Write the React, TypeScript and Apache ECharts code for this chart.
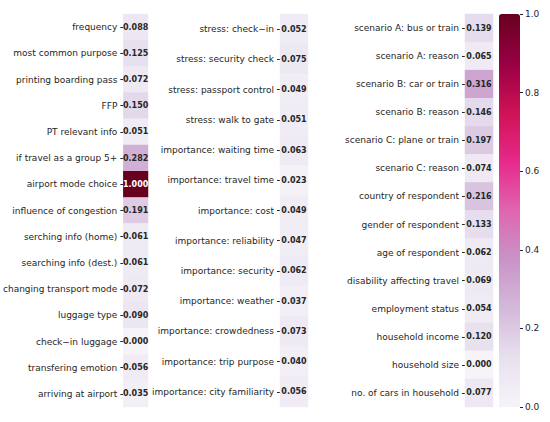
import React, { useEffect, useRef } from "react";
import * as echarts from "echarts";

const labels1 = [
  "frequency", "most common purpose", "printing boarding pass", "FFP", "PT relevant info",
  "if travel as a group 5+", "airport mode choice", "influence of congestion",
  "serching info (home)", "searching info (dest.)", "changing transport mode",
  "luggage type", "check\u2212in luggage", "transfering emotion", "arriving at airport",
];
const values1 = [0.088, 0.125, 0.072, 0.15, 0.051, 0.282, 1.0, 0.191, 0.061, 0.061, 0.072, 0.09, 0.0, 0.056, 0.035];

const labels2 = [
  "stress: check\u2212in", "stress: security check", "stress: passport control", "stress: walk to gate",
  "importance: waiting time", "importance: travel time", "importance: cost",
  "importance: reliability", "importance: security", "importance: weather",
  "importance: crowdedness", "importance: trip purpose", "importance: city familiarity",
];
const values2 = [0.052, 0.075, 0.049, 0.051, 0.063, 0.023, 0.049, 0.047, 0.062, 0.037, 0.073, 0.04, 0.056];

const labels3 = [
  "scenario A: bus or train", "scenario A: reason", "scenario B: car or train", "scenario B: reason",
  "scenario C: plane or train", "scenario C: reason", "country of respondent",
  "gender of respondent", "age of respondent", "disability affecting travel",
  "employment status", "household income", "household size", "no. of cars in household",
];
const values3 = [0.139, 0.065, 0.316, 0.146, 0.197, 0.074, 0.216, 0.133, 0.062, 0.069, 0.054, 0.12, 0.0, 0.077];

const colorbarTicks = [0, 0.2, 0.4, 0.6, 0.8, 1.0];

const PuRd = ["#f7f4f9", "#e7e1ef", "#d4b9da", "#c994c7", "#df65b0", "#e7298a", "#ce1256", "#980043", "#67001f"];

const FONT = "DejaVu Sans";
const TOP = 14;
const HEIGHT = 393;

export default function App() {
  const ref = useRef<HTMLDivElement>(null);
  useEffect(() => {
    if (!ref.current) return;
    const chart = echarts.init(ref.current, null, { renderer: "svg" });
    const cols = [
      { labels: labels1, values: values1, left: 123, width: 25 },
      { labels: labels2, values: values2, left: 280, width: 28 },
      { labels: labels3, values: values3, left: 465, width: 28 },
    ];
    const grid: any[] = cols.map((c) => ({ left: c.left, width: c.width, top: TOP, height: HEIGHT }));
    grid.push({ left: 499, width: 21, top: TOP, height: HEIGHT });
    const xAxis: any[] = cols.map((_, i) => ({ type: "category", gridIndex: i, data: [""], show: false }));
    xAxis.push({ type: "category", gridIndex: 3, show: false, data: [""] });
    const yAxis: any[] = cols.map((c, i) => ({
      type: "category",
      gridIndex: i,
      data: c.labels,
      inverse: true,
      axisLine: { show: false },
      axisTick: { show: true, alignWithLabel: true, length: 3, lineStyle: { color: "#262626" } },
      axisLabel: { fontSize: 9, color: "#262626", fontFamily: FONT, margin: 6, interval: 0 },
      splitLine: { show: false },
    }));
    yAxis.push({
      type: "value",
      gridIndex: 3,
      position: "right",
      min: colorbarTicks[0],
      max: colorbarTicks[colorbarTicks.length - 1],
      interval: 0.2,
      axisLine: { show: false, onZero: false },
      axisTick: { show: true, length: 3, lineStyle: { color: "#262626" } },
      axisLabel: { fontSize: 9, color: "#262626", fontFamily: FONT, margin: 5, formatter: (v: number) => v.toFixed(1) },
      splitLine: { show: false },
    });
    const series: any[] = cols.map((c, i) => ({
      type: "heatmap",
      xAxisIndex: i,
      yAxisIndex: i,
      data: c.values.map((v, j) => ({
        value: [0, j, v],
        label: { color: v > 0.6 ? "#ffffff" : "#262626" },
      })),
      label: {
        show: true,
        fontSize: 8,
        fontWeight: "bold",
        fontFamily: FONT,
        formatter: (p: any) => p.value[2].toFixed(3),
      },
      itemStyle: { borderWidth: 0 },
    }));
    series.push({ type: "line", xAxisIndex: 3, yAxisIndex: 3, data: [] });
    chart.setOption({
      animation: false,
      backgroundColor: "#ffffff",
      grid,
      xAxis,
      yAxis,
      visualMap: {
        type: "continuous",
        min: 0,
        max: 1,
        seriesIndex: [0, 1, 2],
        dimension: 2,
        inRange: { color: PuRd },
        left: 499,
        top: TOP,
        itemWidth: 21,
        itemHeight: HEIGHT,
        padding: 0,
        calculable: false,
        hoverLink: false,
        text: undefined,
      },
      series,
    });
    return () => chart.dispose();
  }, []);
  return <div ref={ref} style={{ position: "fixed", left: 0, top: 0, width: 550, height: 422 }} />;
}
